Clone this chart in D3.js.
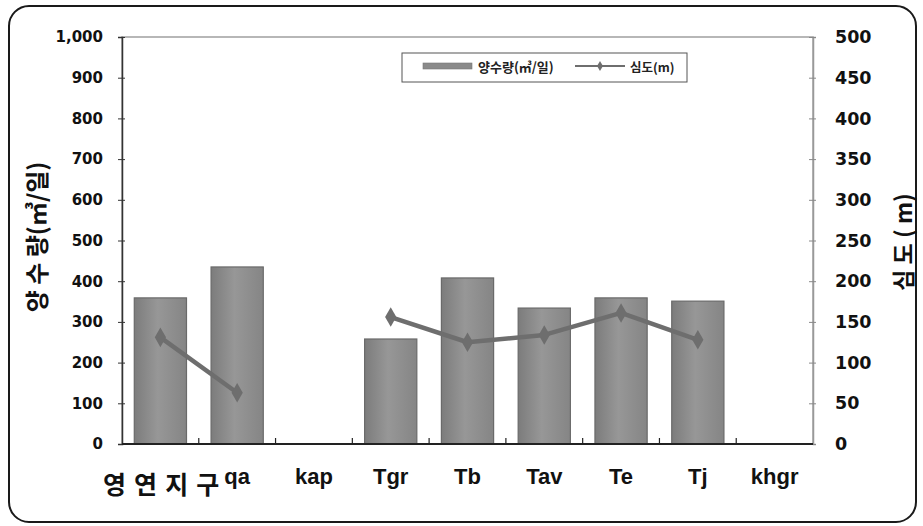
<!DOCTYPE html>
<html><head><meta charset="utf-8">
<script src="https://cdn.jsdelivr.net/npm/d3@7"></script>
<style>
html,body{margin:0;padding:0;background:#fff;}
svg{display:block;}
</style></head>
<body>
<svg id="chart" width="923" height="526"></svg>
<script>
// ---- data ----
const categories = ["", "qa", "kap", "Tgr", "Tb", "Tav", "Te", "Tj", "khgr"];
const pumping = [359, 435, null, 258, 408, 334, 359, 351, null];   // 양수량 (㎥/일)
const depth   = [131, 63, null, 156, 125, 134, 161, 128, null];     // 심도 (m)
const leftTicks  = [0, 100, 200, 300, 400, 500, 600, 700, 800, 900, 1000];
const rightTicks = [0, 50, 100, 150, 200, 250, 300, 350, 400, 450, 500];
const regionLabel = "영 연 지 구";
const leftTitle = "양 수 량(㎥/일)";
const rightTitle = "심 도 ( m)";
const legendBar = "양수량(㎥/일)";
const legendLine = "심도(m)";

const svg = d3.select("#chart");
const L = 122, R = 813, T = 37, B = 444;

// outer frame
svg.append("rect").attr("x", 9).attr("y", 6).attr("width", 907).attr("height", 516)
  .attr("rx", 20).attr("ry", 20).attr("fill", "#fff").attr("stroke", "#1a1a1a").attr("stroke-width", 2);

const x = d3.scaleBand().domain(d3.range(categories.length)).range([L, R])
  .paddingInner(0.32).paddingOuter(0.16);
const yL = d3.scaleLinear().domain([0, 1000]).range([B, T]);
const yR = d3.scaleLinear().domain([0, 500]).range([B, T]);

// gradient for bars
const defs = svg.append("defs");
const g = defs.append("linearGradient").attr("id", "barGrad").attr("x1", "0%").attr("x2", "100%");
g.append("stop").attr("offset", "0%").attr("stop-color", "#7c7c7c");
g.append("stop").attr("offset", "45%").attr("stop-color", "#979797");
g.append("stop").attr("offset", "100%").attr("stop-color", "#858585");

// plot area border
svg.append("rect").attr("x", L).attr("y", T).attr("width", R - L).attr("height", B - T)
  .attr("fill", "none").attr("stroke", "#a0a0a0").attr("stroke-width", 1.5);

// bars
svg.append("g").selectAll("rect").data(pumping.map((v, i) => ({v, i})).filter(d => d.v != null))
  .join("rect")
  .attr("x", d => x(d.i)).attr("width", x.bandwidth())
  .attr("y", d => yL(d.v)).attr("height", d => B - yL(d.v))
  .attr("fill", "url(#barGrad)").attr("stroke", "#6a6a6a").attr("stroke-width", 1.2);

// left axis
const axL = svg.append("g").attr("transform", `translate(${L},0)`)
  .call(d3.axisLeft(yL).tickValues(leftTicks).tickFormat(d3.format(",")).tickSize(4).tickPadding(15));
axL.select(".domain").attr("stroke", "#333").attr("stroke-width", 1.5);
axL.selectAll(".tick line").attr("x1", 3).attr("stroke", "#333");
axL.selectAll(".tick text").attr("font-family", "DejaVu Sans, sans-serif").attr("font-weight", "bold")
  .attr("font-size", 15).attr("fill", "#111");

// right axis
const axR = svg.append("g").attr("transform", `translate(${R},0)`)
  .call(d3.axisRight(yR).tickValues(rightTicks).tickSize(3).tickPadding(19));
axR.select(".domain").attr("stroke", "#999").attr("stroke-width", 1.5);
axR.selectAll(".tick line").attr("x1", -4).attr("stroke", "#888");
axR.selectAll(".tick text").attr("font-family", "DejaVu Sans, sans-serif").attr("font-weight", "bold")
  .attr("font-size", 17.5).attr("fill", "#111");

// bottom axis line + boundary ticks
svg.append("line").attr("x1", L).attr("x2", R).attr("y1", B).attr("y2", B)
  .attr("stroke", "#222").attr("stroke-width", 1.8);
const half = x.step() * x.paddingInner() / 2;
svg.append("g").selectAll("line").data(d3.range(1, categories.length))
  .join("line")
  .attr("x1", i => x(i) - half).attr("x2", i => x(i) - half)
  .attr("y1", B).attr("y2", B - 6).attr("stroke", "#222").attr("stroke-width", 1.2);

// category labels
svg.append("g").selectAll("text").data(categories.map((c, i) => ({c, i})).filter(d => d.c))
  .join("text")
  .attr("x", d => x(d.i) + x.bandwidth() / 2).attr("y", 484)
  .attr("text-anchor", "middle")
  .attr("font-family", "Liberation Sans Narrow, Liberation Sans, Arial, sans-serif")
  .attr("font-weight", "bold").attr("font-size", 22).attr("fill", "#111")
  .text(d => d.c);

svg.append("text").attr("x", 103).attr("y", 494)
  .attr("font-family", "Noto Sans CJK KR, sans-serif").attr("font-weight", "bold")
  .attr("letter-spacing", 1.2)
  .attr("font-size", 25).attr("fill", "#111").text(regionLabel);

// depth line
const line = d3.line().defined(d => d.v != null)
  .x(d => x(d.i) + x.bandwidth() / 2).y(d => yR(d.v));
const depthData = depth.map((v, i) => ({v, i}));
svg.append("path").datum(depthData).attr("d", line)
  .attr("fill", "none").attr("stroke", "#6e6e6e").attr("stroke-width", 4.5).attr("stroke-linejoin", "round");
const diamond = d3.symbol().type(d3.symbolDiamond).size(110);
svg.append("g").selectAll("path").data(depthData.filter(d => d.v != null))
  .join("path")
  .attr("transform", d => `translate(${x(d.i) + x.bandwidth() / 2},${yR(d.v)})`)
  .attr("d", diamond).attr("fill", "#6e6e6e");

// axis titles
svg.append("text").attr("transform", "translate(46,237) rotate(-90)")
  .attr("text-anchor", "middle").attr("font-family", "Noto Sans CJK KR, sans-serif")
  .attr("font-weight", "bold").attr("font-size", 24).attr("fill", "#111").text(leftTitle);
svg.append("text").attr("transform", "translate(912,242) rotate(-90)")
  .attr("text-anchor", "middle").attr("font-family", "Noto Sans CJK KR, sans-serif")
  .attr("font-weight", "bold").attr("font-size", 23).attr("fill", "#111").text(rightTitle);

// legend
const lg = svg.append("g");
lg.append("rect").attr("x", 402).attr("y", 53).attr("width", 285).attr("height", 29)
  .attr("fill", "#fff").attr("stroke", "#555").attr("stroke-width", 1);
lg.append("rect").attr("x", 423).attr("y", 63).attr("width", 49).attr("height", 6)
  .attr("fill", "#8a8a8a").attr("stroke", "#777").attr("stroke-width", 0.6);
lg.append("text").attr("x", 478).attr("y", 72)
  .attr("font-family", "Noto Sans CJK KR, sans-serif").attr("font-weight", "bold")
  .attr("font-size", 13).attr("fill", "#222").text(legendBar);
lg.append("line").attr("x1", 575).attr("x2", 625).attr("y1", 66).attr("y2", 66)
  .attr("stroke", "#6e6e6e").attr("stroke-width", 2);
lg.append("path").attr("transform", "translate(600,66)")
  .attr("d", d3.symbol().type(d3.symbolDiamond).size(30)).attr("fill", "#6e6e6e");
lg.append("text").attr("x", 630).attr("y", 72)
  .attr("font-family", "Noto Sans CJK KR, sans-serif").attr("font-weight", "bold")
  .attr("font-size", 12.5).attr("fill", "#222").text(legendLine);
</script>
</body></html>
